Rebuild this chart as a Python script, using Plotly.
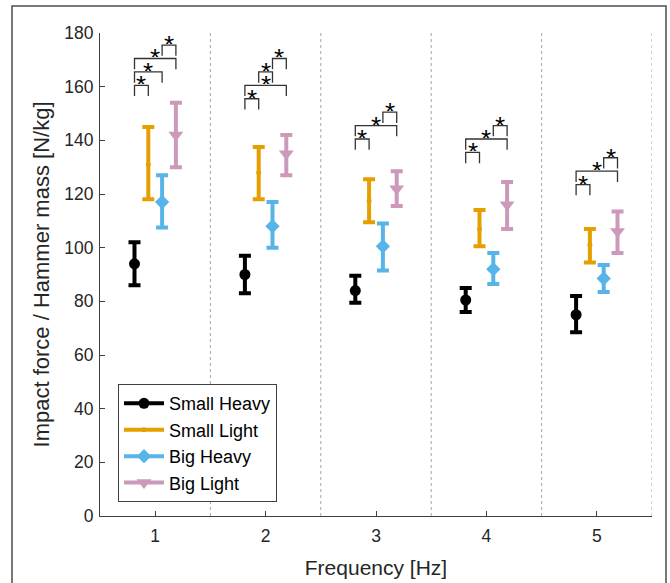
import plotly.graph_objects as go

# ---- data ----
freqs = [1, 2, 3, 4, 5]
series_names = ["Small Heavy", "Small Light", "Big Heavy", "Big Light"]

small_heavy_mean = [94, 90, 84, 80.5, 75]
small_heavy_hi = [102, 97, 89.5, 85, 82]
small_heavy_lo = [86, 83, 79.5, 76, 68.5]

small_light_mean = [131, 128, 117.5, 107, 101]
small_light_hi = [145, 137.5, 125.5, 114, 107]
small_light_lo = [118, 118, 109.5, 100.5, 94.5]

big_heavy_mean = [117, 108, 100.5, 92, 88.5]
big_heavy_hi = [127, 117, 109, 98, 93.5]
big_heavy_lo = [107.5, 100, 91.5, 86.5, 83.5]

big_light_mean = [142, 135, 122, 116, 106]
big_light_hi = [154, 142, 128.5, 124.5, 113.5]
big_light_lo = [130, 127, 115.5, 107, 98]

# significance brackets: (frequency, group a, group b, level)
brackets = [
    (1, 0, 1, 160.5), (1, 0, 2, 165.5), (1, 0, 3, 170.5), (1, 2, 3, 175.5),
    (2, 0, 1, 155.5), (2, 0, 3, 160.5), (2, 1, 2, 165.5), (2, 2, 3, 170.5),
    (3, 0, 1, 140.5), (3, 0, 3, 145.5), (3, 2, 3, 150.5),
    (4, 0, 1, 135.5), (4, 0, 3, 140.5), (4, 2, 3, 145.5),
    (5, 0, 1, 123.5), (5, 0, 3, 128.5), (5, 2, 3, 133.5),
]
bracket_drop = 4

# ---- styles ----
offsets = [-0.1875, -0.0625, 0.0625, 0.1875]
colors = ["#000000", "#E69F00", "#56B4E9", "#CC99BB"]
symbols = ["circle", "circle", "diamond", "triangle-down"]
msizes = [11, 5, 11, 13]
FONT = "Liberation Sans, Arial, sans-serif"
TXT = "#262626"

means = [small_heavy_mean, small_light_mean, big_heavy_mean, big_light_mean]
his = [small_heavy_hi, small_light_hi, big_heavy_hi, big_light_hi]
los = [small_heavy_lo, small_light_lo, big_heavy_lo, big_light_lo]

fig = go.Figure()

# separators (dotted)
for k in range(len(freqs)):
    xs = freqs[k] + 0.5
    fig.add_shape(type="line", xref="x", yref="paper", x0=xs, x1=xs, y0=0, y1=1,
                  line=dict(color="#a6a6a6", width=1, dash="dot"), layer="below")

for i, name in enumerate(series_names):
    xs = [f + offsets[i] for f in freqs]
    up = [h - m for h, m in zip(his[i], means[i])]
    dn = [m - l for m, l in zip(means[i], los[i])]
    fig.add_trace(go.Scatter(
        x=xs, y=means[i], mode="markers", showlegend=False,
        marker=dict(color=colors[i], size=msizes[i], symbol=symbols[i]),
        error_y=dict(type="data", array=up, arrayminus=dn, color=colors[i],
                     thickness=4, width=6),
    ))

for i, name in enumerate(series_names):
    fig.add_trace(go.Scatter(
        x=[None], y=[None], mode="lines+markers", name=name,
        line=dict(color=colors[i], width=4),
        marker=dict(color=colors[i], size=msizes[i], symbol=symbols[i]),
    ))

# brackets
bx, by = [], []
for f, a, b, lvl in brackets:
    xa = f + offsets[a]
    xb = f + offsets[b]
    bx += [xa, xa, xb, xb, None]
    by += [lvl - bracket_drop, lvl, lvl, lvl - bracket_drop, None]
    fig.add_annotation(x=(xa + xb) / 2, y=lvl, text="*", showarrow=False,
                       xref="x", yref="y", yanchor="bottom", valign="top",
                       height=14, borderpad=0, yshift=0,
                       font=dict(family=FONT, size=26, color="#000000"))
fig.add_trace(go.Scatter(x=bx, y=by, mode="lines", showlegend=False,
                         line=dict(color="#333333", width=1.3), hoverinfo="skip"))

# outer border
fig.add_shape(type="rect", xref="paper", yref="paper",
              x0=-0.1594, x1=1.0254, y0=-0.2, y1=1.0559,
              line=dict(color="#4d4d4d", width=1.5), fillcolor="rgba(0,0,0,0)")

fig.update_layout(
    width=670, height=583,
    margin=dict(l=100, r=18, t=33, b=67),
    paper_bgcolor="white", plot_bgcolor="white",
    font=dict(family=FONT, size=17, color=TXT),
    xaxis=dict(range=[0.5, 5.5], tickvals=freqs, ticktext=[str(f) for f in freqs],
               showgrid=False, zeroline=False, showline=True, linecolor="#404040",
               linewidth=1, ticks="inside", ticklen=5, tickcolor="#404040",
               ticklabelstandoff=4, automargin=False,
               tickfont=dict(size=17.5, color=TXT),
               title=dict(text="Frequency [Hz]", font=dict(size=21, color=TXT), standoff=15)),
    yaxis=dict(range=[0, 180], tickvals=list(range(0, 181, 20)),
               showgrid=False, zeroline=False, showline=True, linecolor="#404040",
               linewidth=1, ticks="inside", ticklen=5, tickcolor="#404040",
               ticklabelstandoff=2, automargin=False,
               tickfont=dict(size=17.5, color=TXT),
               title=dict(text="Impact force / Hammer mass [N/kg]",
                          font=dict(size=22, color=TXT), standoff=8)),
    legend=dict(x=0.0326, y=0.273, xanchor="left", yanchor="top",
                bgcolor="white", bordercolor="#404040", borderwidth=1,
                font=dict(size=18, color="#000000"), itemwidth=40,
                tracegroupgap=0),
    showlegend=True,
)

fig.write_html("out.html", post_script="document.body.style.margin='0';",
               config={"displayModeBar": False})
